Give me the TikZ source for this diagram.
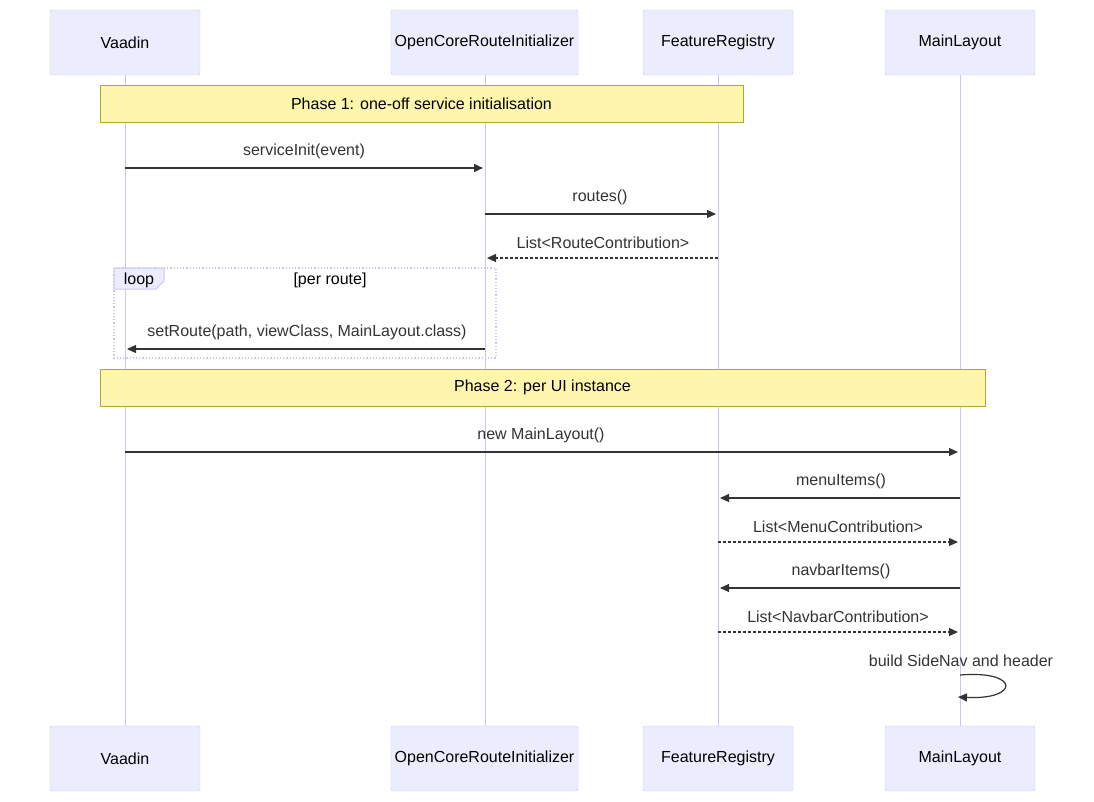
\documentclass[tikz,border=0pt]{standalone}
\usepackage{fontspec}
\setmainfont{Liberation Sans}
\usetikzlibrary{arrows.meta,calc}
\definecolor{actfill}{HTML}{ECECFF}
\definecolor{actline}{HTML}{CCC5F0}
\definecolor{notefill}{HTML}{FFF5AD}
\definecolor{noteline}{HTML}{AAAA33}
\definecolor{txt}{HTML}{333333}
\begin{document}
\begin{tikzpicture}[x=1pt,y=-1pt,
  actor/.style={draw=actline,fill=actfill,rounded corners=2pt,minimum width=150pt,minimum height=65pt,inner sep=0pt,font=\fontsize{16pt}{19pt}\selectfont,text=black},
  life/.style={draw=actline,line width=1pt},
  note/.style={draw=noteline,fill=notefill,inner sep=0pt,font=\fontsize{16pt}{19pt}\selectfont,text=black},
  msg/.style={draw=txt,line width=1.2pt,-{Triangle[length=9pt,width=8pt]}},
  ret/.style={msg,dash pattern=on 3pt off 2pt},
  lbl/.style={font=\fontsize{16pt}{19pt}\selectfont,text=txt,inner sep=0pt}]
\useasboundingbox (0,0) rectangle (1094,802);
% lifelines
\foreach \n/\x in {v/125,o/485,f/718,m/960}{
  \coordinate (\n t) at (\x,75); \coordinate (\n b) at (\x,726);
  \draw[life] (\n t) -- (\n b);
}
% actors
\node[actor] (v1) at (125,42.5) {Vaadin};
\node[actor,minimum width=187pt] (o1) at (484.5,42.5) {OpenCoreRouteInitializer};
\node[actor] (f1) at (718,42.5) {FeatureRegistry};
\node[actor] (m1) at (960,42.5) {MainLayout};
\node[actor] (v2) at (125,758.5) {Vaadin};
\node[actor,minimum width=187pt] (o2) at (484.5,758.5) {OpenCoreRouteInitializer};
\node[actor] (f2) at (718,758.5) {FeatureRegistry};
\node[actor] (m2) at (960,758.5) {MainLayout};
% notes
\node[note,minimum width=643pt,minimum height=37pt] (n1) at (421.5,103.5) {Phase 1: one-off service initialisation};
\node[note,minimum width=885pt,minimum height=37pt] (n2) at (542.5,387.5) {Phase 2: per UI instance};
% loop
\draw[actline,dotted,line width=1.2pt] (114,268) rectangle (496,358);
\draw[actline,fill=actfill,line width=1pt] (114,268) -- (164,268) -- (164,281) -- (156,289) -- (114,289) -- cycle;
\node[lbl,text=black] (lp) at (139,280) {loop};
\node[lbl,text=black] (lpc) at (330,280) {[per route]};
% message coordinates
\foreach \n/\x in {v/125,o/485,f/718,m/960}{
  \foreach \y in {168,214,258,349,452,498,542,588,632}{
    \coordinate (\n\y) at (\x,\y);
  }
}
\draw[msg] (v168) -- ($(o168)+(-2,0)$);
\node[lbl] (l1) at (304,151) {serviceInit(event)};
\draw[msg] (o214) -- ($(f214)+(-2,0)$);
\node[lbl] (l2) at (600,197) {routes()};
\draw[ret] (f258) -- ($(o258)+(2,0)$);
\node[lbl] (l3) at (603,243) {List<RouteContribution>};
\draw[msg] (o349) -- ($(v349)+(2,0)$);
\node[lbl] (l4) at (307,332) {setRoute(path, viewClass, MainLayout.class)};
\draw[msg] (v452) -- ($(m452)+(-2,0)$);
\node[lbl] (l5) at (541,435) {new MainLayout()};
\draw[msg] (m498) -- ($(f498)+(2,0)$);
\node[lbl] (l6) at (841,481) {menuItems()};
\draw[ret] (f542) -- ($(m542)+(-2,0)$);
\node[lbl] (l7) at (838,527) {List<MenuContribution>};
\draw[msg] (m588) -- ($(f588)+(2,0)$);
\node[lbl] (l8) at (841,571) {navbarItems()};
\draw[ret] (f632) -- ($(m632)+(-2,0)$);
\node[lbl] (l9) at (838,617) {List<NavbarContribution>};
\node[lbl] (l10) at (961,661) {build SideNav and header};
\coordinate (s1) at (960,675); \coordinate (s2) at (958,697);
\draw[msg] (s1) .. controls (1020,670) and (1020,700) .. (s2);
\end{tikzpicture}
\end{document}
